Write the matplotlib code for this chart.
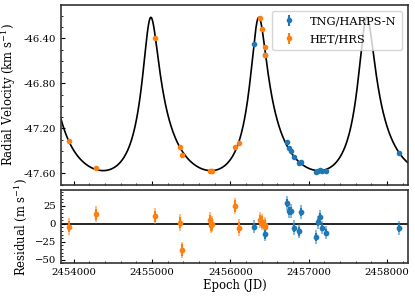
import numpy as np
import matplotlib
matplotlib.use("Agg")
import matplotlib.pyplot as plt
from matplotlib.ticker import MultipleLocator, FormatStrFormatter

plt.rcParams['font.family'] = 'DejaVu Serif'
plt.rcParams['mathtext.fontset'] = 'dejavuserif'

# TNG/HARPS-N
t_tng = np.array([2456303, 2456448, 2456717, 2456746, 2456771, 2456814, 2456874, 2456899,
                  2457087, 2457113, 2457142, 2457171, 2457214, 2458151])
rv_tng = np.array([-46.453, -46.548, -47.324, -47.372, -47.399, -47.458, -47.506, -47.502,
                   -47.591, -47.577, -47.568, -47.580, -47.580, -47.422])
res_tng = np.array([-3.9, -14.6, 28.9, 17.8, 17.8, -5.3, -10.4, 16.4,
                    -18.3, 2.1, 10.0, -5.3, -12.2, -5.8])
err_tng = np.array([5, 6, 6, 6, 5, 6, 6, 6, 6, 5, 5, 5, 5, 6])

# HET/HRS
t_het = np.array([2453936, 2454281, 2455043, 2455354, 2455383, 2455737, 2455750, 2455766,
                  2456065, 2456107, 2456375, 2456405, 2456436, 2456448])
rv_het = np.array([-47.313, -47.556, -46.400, -47.364, -47.437, -47.577, -47.578, -47.580,
                   -47.369, -47.328, -46.217, -46.317, -46.475, -46.548])
res_het = np.array([-3.9, 13.2, 10.4, 1.7, -36.8, 4.9, -2.0, -0.7,
                    24.7, -5.3, 4.9, 2.5, -2.0, -4.4])
err_het = np.array([8, 8, 8, 8, 8, 8, 8, 8, 8, 8, 8, 8, 8, 8])
jitter = 8.0

# Keplerian orbit: P, Tp, e, omega, K, gamma
P = 1376.8
Tp = 2456351.6
ecc = 0.474
omega = -0.1686
K = 0.6813
gamma = -47.213


def kepler_rv(t):
    M = 2*np.pi*(t-Tp)/P
    E = M + ecc*np.sin(M)
    for _ in range(30):
        E = E - (E - ecc*np.sin(E) - M)/(1 - ecc*np.cos(E))
    nu = 2*np.arctan2(np.sqrt(1+ecc)*np.sin(E/2), np.sqrt(1-ecc)*np.cos(E/2))
    return gamma + K*(np.cos(nu+omega) + ecc*np.cos(omega))


xlo, xhi = 2453840, 2458265

fig = plt.figure(figsize=(4.15, 2.97), dpi=100)
ax1 = fig.add_axes([0.147, 0.377, 0.836, 0.606])
ax2 = fig.add_axes([0.147, 0.1135, 0.836, 0.2465])

tmod = np.linspace(xlo, xhi, 3000)
ax1.plot(tmod, kepler_rv(tmod), color='k', lw=1.2, zorder=1)
ax1.errorbar(t_tng, rv_tng, yerr=err_tng/1000., fmt='o', ms=3, color='C0', label='TNG/HARPS-N', zorder=3)
ax1.errorbar(t_het, rv_het, yerr=err_het/1000., fmt='o', ms=3, color='C1', label='HET/HRS', zorder=3)
ax1.set_xlim(xlo, xhi)
ax1.set_ylim(-47.704, -46.104)
ax1.yaxis.set_major_locator(MultipleLocator(0.4))
ax1.yaxis.set_minor_locator(MultipleLocator(0.1))
ax1.yaxis.set_major_formatter(FormatStrFormatter('%.2f'))
ax1.tick_params(labelbottom=False)
ax1.set_ylabel('Radial Velocity (km s$^{-1}$)', fontsize=8.4)
ax1.legend(loc='upper right', fontsize=8.2, labelspacing=0.7, borderpad=0.5)

ax2.axhline(0, color='k', lw=1.2, zorder=1)
ax2.errorbar(t_het, res_het, yerr=np.sqrt(err_het**2 + jitter**2), fmt='o', ms=3, color='C1', alpha=0.5, zorder=2)
ax2.errorbar(t_het, res_het, yerr=err_het, fmt='o', ms=3, color='C1', zorder=3)
ax2.errorbar(t_tng, res_tng, yerr=np.sqrt(err_tng**2 + jitter**2), fmt='o', ms=3, color='C0', alpha=0.5, zorder=2)
ax2.errorbar(t_tng, res_tng, yerr=err_tng, fmt='o', ms=3, color='C0', zorder=3)
ax2.set_xlim(xlo, xhi)
ax2.set_ylim(-55, 47)
ax2.yaxis.set_major_locator(MultipleLocator(25))
ax2.yaxis.set_minor_locator(MultipleLocator(5))
ax2.xaxis.set_major_formatter(FormatStrFormatter('%d'))
ax2.set_xlabel('Epoch (JD)', fontsize=8.4, labelpad=1)
ax2.set_ylabel('Residual (m s$^{-1}$)', fontsize=8.4)

for ax in (ax1, ax2):
    ax.xaxis.set_major_locator(MultipleLocator(1000))
    ax.xaxis.set_minor_locator(MultipleLocator(200))
    ax.tick_params(which='both', direction='in', labelsize=7.3)
    ax.tick_params(which='major', length=3)
    ax.tick_params(which='minor', length=1.5)
    for s in ax.spines.values():
        s.set_linewidth(1.2)
        s.set_color('#333333')

fig.savefig('out.png', dpi=100)
